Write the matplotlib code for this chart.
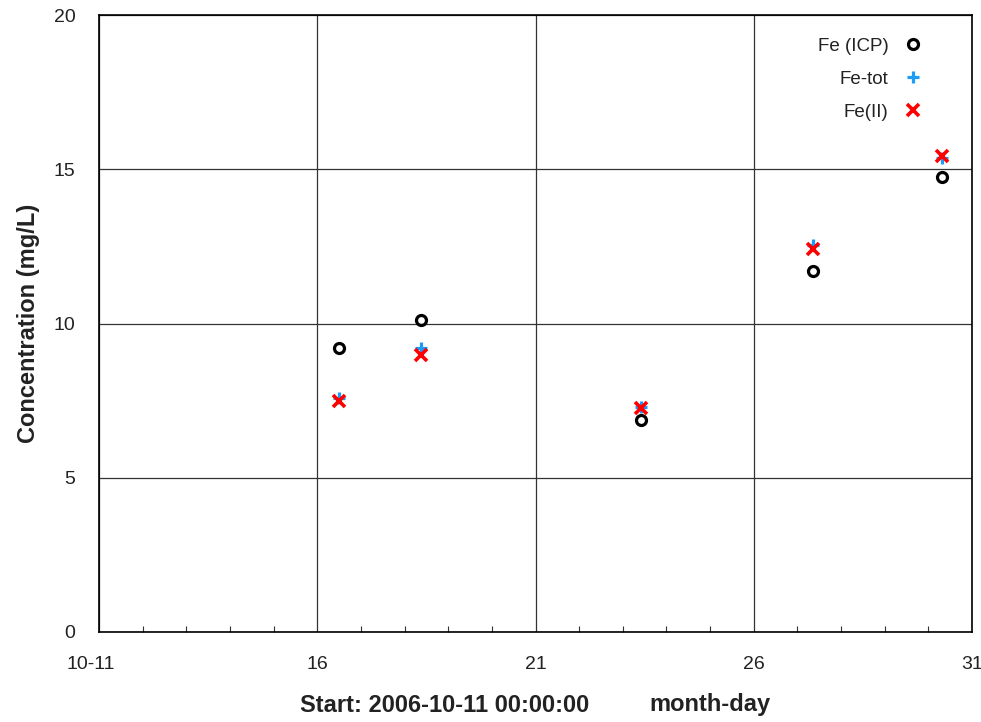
import matplotlib
matplotlib.use("Agg")
import matplotlib.pyplot as plt
import matplotlib.transforms as mtransforms
from matplotlib.ticker import MultipleLocator

plt.rcParams['font.family'] = ['Liberation Sans', 'DejaVu Sans']

# days since 2006-10-11 00:00:00
days = [5.5, 7.37, 12.42, 16.36, 19.31]

fe_icp = [9.2, 10.11, 6.88, 11.71, 14.75]
fe_tot = [7.59, 9.2, 7.29, 12.54, 15.36]
fe_ii = [7.49, 8.98, 7.26, 12.41, 15.43]

xtick_pos = [0, 5, 10, 15, 20]
xtick_labels = ["10-11", "16", "21", "26", "31"]
ytick_pos = [0, 5, 10, 15, 20]

fig = plt.figure(figsize=(9.81, 7.22), dpi=100)
ax = fig.add_axes([99 / 981, 90 / 722, 873 / 981, 617 / 722])

ax.plot(days, fe_icp, linestyle='none', marker='o', markersize=7.2,
        markerfacecolor='none', markeredgecolor='black', markeredgewidth=2.3,
        label="Fe (ICP)", zorder=3)
ax.plot(days, fe_tot, linestyle='none', marker='+', markersize=9,
        color='#1c9cf6', markeredgewidth=2.3, label="Fe-tot", zorder=4)
ax.plot(days, fe_ii, linestyle='none', marker='x', markersize=8,
        color='#ff0000', markeredgewidth=2.6, label="Fe(II)", zorder=5)

ax.set_xlim(0, 20)
ax.set_ylim(0, 20)
ax.set_xticks(xtick_pos)
ax.set_xticklabels(xtick_labels)
ax.set_yticks(ytick_pos)
ax.xaxis.set_minor_locator(MultipleLocator(1))

ax.grid(True, which='major', color='#333333', linewidth=0.9)
ax.set_axisbelow(True)

ax.tick_params(axis='both', which='major', length=0, labelsize=14,
               labelcolor='#222222')
ax.tick_params(axis='x', which='major', pad=17)
ax.tick_params(axis='y', which='major', pad=17)
ax.tick_params(axis='x', which='minor', direction='in', length=4,
               width=0.8, color='#333333')

# first date label sits a little left of the axis start
first = ax.get_xticklabels()[0]
first.set_transform(first.get_transform() +
                    mtransforms.ScaledTranslation(-8 / 100, 0, fig.dpi_scale_trans))

for s in ax.spines.values():
    s.set_color('black')
    s.set_linewidth(1.2)

ax.set_ylabel("Concentration (mg/L)", fontsize=17, fontweight='bold',
              labelpad=10, color='#222222')

fig.text(300 / 981, 1 - 705 / 722, "Start: 2006-10-11 00:00:00",
         fontsize=17, fontweight='bold', ha='left', va='center',
         color='#222222')
fig.text(649 / 981, 1 - 705 / 722, "month-day",
         fontsize=17, fontweight='bold', ha='left', va='center',
         color='#222222')

leg = ax.legend(loc='upper right', bbox_to_anchor=(0.96, 0.985),
                frameon=False, markerfirst=False, fontsize=13.5,
                handlelength=1.2, handletextpad=0.7, labelspacing=0.85,
                borderaxespad=0.3)
for t in leg.get_texts():
    t.set_ha('right')
    t.set_color('#222222')
leg._legend_box.align = 'right'

fig.savefig("out.png", dpi=100)
